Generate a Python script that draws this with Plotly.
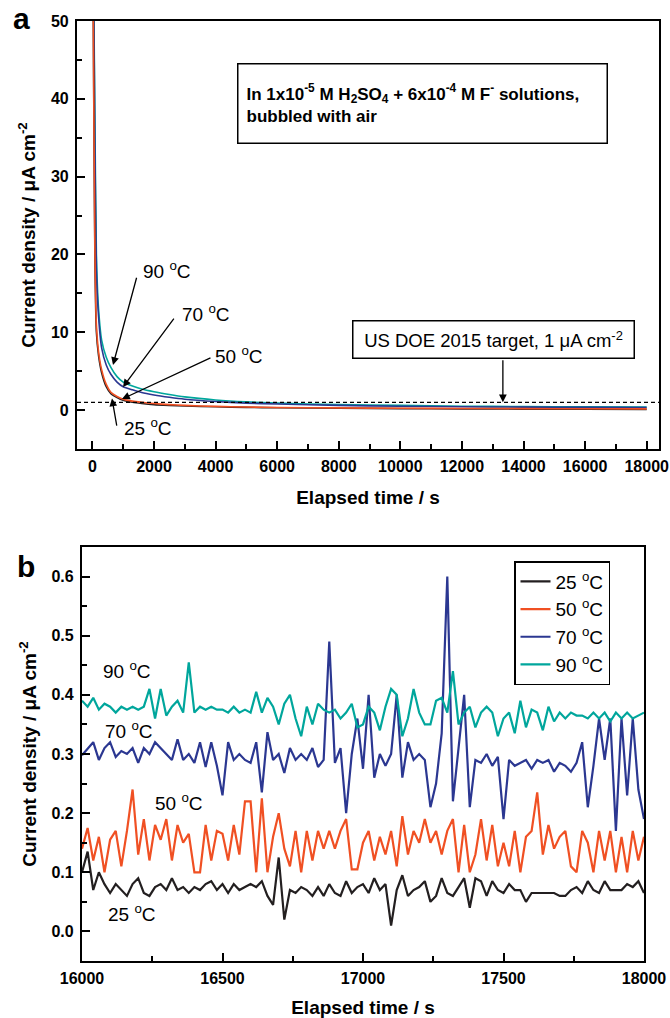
import numpy as np
import plotly.graph_objects as go

# ---------------- Panel a data (decay curves) ----------------
t_a = [0, 30, 80, 130, 200, 300, 450, 600, 800, 1000, 1300, 1600, 2000, 2500,
       3000, 4000, 5000, 6000, 8000, 10000, 12000, 14000, 16000, 18000]
a_25 = [80, 50, 20, 10, 7, 4.8, 3.0, 2.1, 1.6, 1.25, 1.0, 0.85, 0.7, 0.6,
        0.52, 0.42, 0.35, 0.3, 0.24, 0.19, 0.16, 0.13, 0.11, 0.09]
a_50 = [80, 50, 21, 11, 7.5, 5.2, 3.3, 2.3, 1.75, 1.4, 1.15, 1.0, 0.85, 0.7,
        0.6, 0.48, 0.4, 0.34, 0.28, 0.24, 0.21, 0.19, 0.17, 0.15]
a_70 = [80, 60, 35, 18, 12, 8, 5.8, 4.6, 3.6, 3.0, 2.6, 2.25, 1.95, 1.65,
        1.4, 1.1, 0.9, 0.78, 0.6, 0.5, 0.43, 0.38, 0.35, 0.33]
a_90 = [80, 60, 38, 20, 13, 9, 6.8, 5.5, 4.3, 3.6, 3.1, 2.7, 2.35, 2.0,
        1.7, 1.3, 1.05, 0.9, 0.7, 0.6, 0.5, 0.45, 0.42, 0.40]
doe_target = 1.0

# ---------------- Panel b data (16000-18000 s, every 20 s) ----------------
t_b = np.arange(16000, 18001, 20)
b_90 = [0.39, 0.38, 0.395, 0.375, 0.385, 0.38, 0.37, 0.38, 0.375, 0.38, 0.375, 0.38, 0.41, 0.36, 0.41,
        0.365, 0.38, 0.39, 0.37, 0.455, 0.37, 0.38, 0.375, 0.38, 0.375,
        0.375, 0.37, 0.38, 0.37, 0.375, 0.37, 0.405, 0.37, 0.395, 0.38, 0.35, 0.385, 0.40, 0.36, 0.33,
        0.38, 0.35, 0.385, 0.375, 0.37, 0.375, 0.36, 0.37, 0.385, 0.345,
        0.35, 0.38, 0.37, 0.34, 0.38, 0.41, 0.40, 0.33, 0.36, 0.41, 0.37, 0.35, 0.35, 0.39, 0.395,
        0.37, 0.44, 0.35, 0.37, 0.38, 0.345, 0.37, 0.38, 0.37, 0.33,
        0.36, 0.37, 0.335, 0.39, 0.345, 0.375, 0.37, 0.34, 0.38, 0.355, 0.37, 0.36, 0.37, 0.365, 0.365,
        0.36, 0.37, 0.36, 0.37, 0.355, 0.37, 0.36, 0.37, 0.36, 0.365, 0.37]
b_70 = [0.298, 0.31, 0.32, 0.29, 0.31, 0.32, 0.295, 0.305, 0.30, 0.31, 0.285, 0.31, 0.30, 0.32, 0.31,
        0.30, 0.29, 0.325, 0.29, 0.30, 0.285, 0.32, 0.278, 0.32, 0.28,
        0.23, 0.32, 0.29, 0.30, 0.29, 0.285, 0.32, 0.235, 0.337, 0.29, 0.30, 0.268, 0.31, 0.29, 0.30,
        0.29, 0.31, 0.278, 0.29, 0.49, 0.285, 0.31, 0.20, 0.30, 0.36,
        0.275, 0.40, 0.26, 0.30, 0.28, 0.30, 0.40, 0.26, 0.32, 0.29, 0.30, 0.29, 0.21, 0.25, 0.335,
        0.60, 0.22, 0.31, 0.40, 0.21, 0.29, 0.285, 0.30, 0.28, 0.295,
        0.19, 0.29, 0.28, 0.285, 0.29, 0.275, 0.29, 0.285, 0.29, 0.27, 0.285, 0.28, 0.27, 0.285, 0.32,
        0.21, 0.28, 0.36, 0.29, 0.36, 0.17, 0.36, 0.23, 0.36, 0.24, 0.19]
b_50 = [0.14, 0.175, 0.12, 0.16, 0.10, 0.155, 0.17, 0.11, 0.17, 0.24, 0.13, 0.19, 0.12, 0.18, 0.155,
        0.19, 0.12, 0.18, 0.15, 0.165, 0.10, 0.10, 0.18, 0.12, 0.17,
        0.165, 0.12, 0.18, 0.13, 0.22, 0.22, 0.10, 0.225, 0.10, 0.16, 0.20, 0.14, 0.11, 0.17, 0.10,
        0.17, 0.12, 0.17, 0.14, 0.17, 0.14, 0.17, 0.19, 0.105, 0.105,
        0.15, 0.17, 0.12, 0.16, 0.13, 0.17, 0.11, 0.195, 0.13, 0.17, 0.15, 0.19, 0.15, 0.17, 0.13,
        0.17, 0.19, 0.10, 0.18, 0.10, 0.13, 0.19, 0.12, 0.18, 0.11,
        0.15, 0.11, 0.17, 0.10, 0.16, 0.17, 0.235, 0.13, 0.18, 0.14, 0.16, 0.17, 0.11, 0.10, 0.17,
        0.15, 0.10, 0.17, 0.12, 0.17, 0.10, 0.16, 0.10, 0.17, 0.12, 0.16]
b_25 = [0.10, 0.135, 0.07, 0.10, 0.08, 0.065, 0.08, 0.07, 0.06, 0.08, 0.09, 0.065, 0.06, 0.075, 0.08,
        0.07, 0.09, 0.07, 0.075, 0.065, 0.075, 0.07, 0.08, 0.085, 0.07,
        0.08, 0.065, 0.08, 0.07, 0.075, 0.08, 0.075, 0.085, 0.06, 0.045, 0.125, 0.02, 0.07, 0.065, 0.075,
        0.07, 0.06, 0.075, 0.06, 0.08, 0.065, 0.06, 0.085, 0.065, 0.075,
        0.08, 0.065, 0.09, 0.07, 0.08, 0.01, 0.07, 0.095, 0.06, 0.07, 0.075, 0.085, 0.05, 0.06, 0.09,
        0.065, 0.06, 0.075, 0.09, 0.04, 0.09, 0.085, 0.06, 0.085, 0.07,
        0.065, 0.08, 0.07, 0.07, 0.05, 0.065, 0.065, 0.065, 0.065, 0.065, 0.06, 0.06, 0.07, 0.075, 0.065,
        0.085, 0.07, 0.065, 0.085, 0.07, 0.07, 0.07, 0.08, 0.075, 0.085, 0.065]

names = ["25 <sup>o</sup>C", "50 <sup>o</sup>C", "70 <sup>o</sup>C", "90 <sup>o</sup>C"]
colors = ["#231f20", "#f05023", "#2b3791", "#00a69c"]

FONT = "Liberation Sans, Arial, Helvetica, sans-serif"
fig = go.Figure()

# panel a traces (drawn 90,70,25,50 so orange lies on black)
for ys, c in [(a_90, colors[3]), (a_70, colors[2]), (a_25, colors[0]), (a_50, colors[1])]:
    fig.add_trace(go.Scatter(x=t_a, y=ys, mode="lines", line=dict(color=c, width=1.6, shape="spline", smoothing=0.6),
                             showlegend=False, xaxis="x", yaxis="y", hoverinfo="skip"))

# panel b traces
for ys, n, c in zip([b_25, b_50, b_70, b_90], names, colors):
    fig.add_trace(go.Scatter(x=t_b, y=ys, mode="lines", name=n, line=dict(color=c, width=2.2),
                             xaxis="x2", yaxis="y2"))

tickfont = dict(family=FONT, size=16, color="black", weight="bold")
titlefont = dict(family=FONT, size=19, color="black", weight="bold")
axcommon = dict(showline=True, linecolor="black", linewidth=2.2, mirror=True, ticks="inside",
                ticklen=8, tickwidth=2, tickcolor="black", showgrid=False, zeroline=False,
                tickfont=tickfont, automargin=False)
minor_style = dict(ticks="inside", ticklen=5, tickwidth=2, tickcolor="black")

fig.update_layout(
    width=670, height=1018, margin=dict(l=0, r=0, t=0, b=0),
    paper_bgcolor="white", plot_bgcolor="white",
    font=dict(family=FONT, color="black"),
    xaxis=dict(domain=[77 / 670, 659 / 670], range=[-500, 18400], anchor="y",
               tickvals=list(range(0, 18001, 2000)), tickformat="d",
               minor=dict(tickvals=list(range(1000, 18000, 2000)), **minor_style),
               ticklabelstandoff=2,
               title=dict(text="Elapsed time / s", font=titlefont, standoff=16), **axcommon),
    yaxis=dict(domain=[1 - 449 / 1018, 1 - 21 / 1018], range=[-5, 50], anchor="x",
               tickvals=[0, 10, 20, 30, 40, 50],
               minor=dict(tickvals=[5, 15, 25, 35, 45], **minor_style),
               ticklabelstandoff=3,
               title=dict(text="Current density / \u03bcA cm<sup>-2</sup>", font=titlefont, standoff=10), **axcommon),
    xaxis2=dict(domain=[82 / 670, 644 / 670], range=[16000, 18000], anchor="y2",
                tickvals=[16000, 16500, 17000, 17500, 18000], tickformat="d",
                minor=dict(tickvals=[16250, 16750, 17250, 17750], **minor_style),
                ticklabelstandoff=2,
                title=dict(text="Elapsed time / s", font=titlefont, standoff=14), **axcommon),
    yaxis2=dict(domain=[1 - 961 / 1018, 1 - 547 / 1018], range=[-0.05, 0.65], anchor="x2",
                tickvals=[0, 0.1, 0.2, 0.3, 0.4, 0.5, 0.6], tickformat=".1f",
                minor=dict(tickvals=[0.05, 0.15, 0.25, 0.35, 0.45, 0.55], **minor_style),
                ticklabelstandoff=3,
                title=dict(text="Current density / \u03bcA cm<sup>-2</sup>", font=titlefont, standoff=10), **axcommon),
    legend=dict(x=514 / 670, y=1 - 561 / 1018, xanchor="left", yanchor="top",
                bordercolor="black", borderwidth=1.5, bgcolor="white",
                font=dict(family=FONT, size=19, color="black"), tracegroupgap=0),
    showlegend=True,
)

# dashed target line
fig.add_shape(type="line", xref="x domain", x0=0, x1=1, yref="y", y0=doe_target, y1=doe_target,
              line=dict(color="black", width=1.3, dash="4px,3px"))

ann = []
# panel letters
ann.append(dict(text="a", x=21 / 670, y=1 - 19 / 1018, xref="paper", yref="paper", showarrow=False,
                font=dict(family=FONT, size=30, weight="bold"), xanchor="center", yanchor="middle"))
ann.append(dict(text="b", x=26 / 670, y=1 - 566 / 1018, xref="paper", yref="paper", showarrow=False,
                font=dict(family=FONT, size=30, weight="bold"), xanchor="center", yanchor="middle"))
# info box
ann.append(dict(text="In 1x10<sup>-5</sup> M H<sub>2</sub>SO<sub>4</sub> + 6x10<sup>-4</sup> M F<sup>-</sup> solutions,<br>bubbled with air",
                x=237 / 670, y=1 - 63 / 1018, xref="paper", yref="paper", xanchor="left", yanchor="top",
                align="left", valign="middle", width=352, height=62, showarrow=False,
                bordercolor="black", borderwidth=1.5, borderpad=8,
                font=dict(family=FONT, size=17, weight="bold", color="black"), bgcolor="white"))
# DOE box
ann.append(dict(text="US DOE 2015 target, 1 \u03bcA cm<sup>-2</sup>", x=13036, y=9.1, xref="x", yref="y",
                showarrow=False, bordercolor="black", borderwidth=1.5, borderpad=6,
                width=268, height=24,
                font=dict(family=FONT, size=18.5, color="black"), bgcolor="white"))
ann.append(dict(text="", x=13330, y=doe_target, ax=13330, ay=6.6, xref="x", yref="y", axref="x", ayref="y",
                showarrow=True, arrowhead=2, arrowsize=1.2, arrowwidth=1.3, arrowcolor="black"))

# temperature labels with arrows in panel a
lab = [("90 <sup>o</sup>C", 2424, 18.0, 1448, 17.2, 669, 5.8),
       ("70 <sup>o</sup>C", 3692, 12.46, 2682, 11.95, 994, 2.96),
       ("50 <sup>o</sup>C", 4764, 7.07, 3883, 6.81, 961, 1.41),
       ("25 <sup>o</sup>C", 1807, -2.18, 799, -2.2, 636, 1.5)]
for txt, tx, ty, ax_, ay_, px_, py_ in lab:
    ann.append(dict(text=txt, x=tx, y=ty, xref="x", yref="y", showarrow=False,
                    font=dict(family=FONT, size=19, color="black")))
    ann.append(dict(text="", x=px_, y=py_, ax=ax_, ay=ay_, xref="x", yref="y", axref="x", ayref="y",
                    showarrow=True, arrowhead=2, arrowsize=1.2, arrowwidth=1.3, arrowcolor="black"))

# temperature labels in panel b
for txt, tx, ty in [("90 <sup>o</sup>C", 16161, 0.442), ("70 <sup>o</sup>C", 16166, 0.341),
                    ("50 <sup>o</sup>C", 16345, 0.219), ("25 <sup>o</sup>C", 16179, 0.031)]:
    ann.append(dict(text=txt, x=tx, y=ty, xref="x2", yref="y2", showarrow=False,
                    font=dict(family=FONT, size=19, color="black")))

fig.update_layout(annotations=ann)
fig.write_html("out.html", config={"displayModeBar": False},
               post_script="document.body.style.margin='0';document.body.style.overflow='hidden';")
